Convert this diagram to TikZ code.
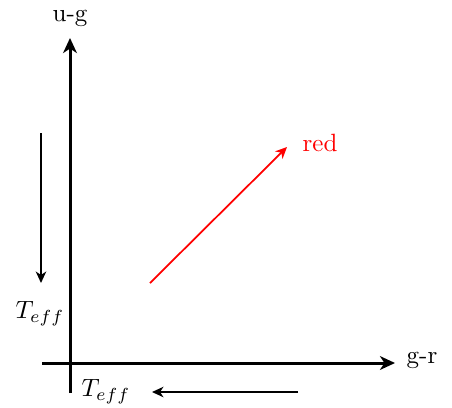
\documentclass[tikz,border=0pt]{standalone}
\usetikzlibrary{arrows.meta}
\begin{document}
\begin{tikzpicture}[x=0.4pt,y=-0.4pt,
  axis/.style={line width=1.2pt,-{Stealth[length=6pt,width=5.5pt,inset=1.8pt]}},
  dirarrow/.style={line width=0.7pt,-{Stealth[length=4.6pt,width=4.2pt,inset=1.4pt]}},
  lbl/.style={inner sep=0pt}]
\useasboundingbox (0,0) rectangle (452,407);
\coordinate (ya) at (70,393);
\coordinate (yb) at (70,38);
\coordinate (xa) at (42,363);
\coordinate (xb) at (395,363);
\draw[axis] (ya) -- (yb);
\draw[axis] (xa) -- (xb);
\node[lbl] (ug) at (70,18) {u-g};
\node[lbl] (gr) at (422,360) {g-r};
\coordinate (l1) at (41,133);
\coordinate (l2) at (41,283);
\draw[dirarrow] (l1) -- (l2);
\node[lbl] (tl) at (40,314) {$T_{eff}$};
\coordinate (b1) at (298,392);
\coordinate (b2) at (152,392);
\draw[dirarrow] (b1) -- (b2);
\node[lbl] (tb) at (106,392) {$T_{eff}$};
\coordinate (r1) at (150,283);
\coordinate (r2) at (287,147);
\draw[dirarrow,red] (r1) -- (r2);
\node[lbl,red] (rd) at (320,143) {red};
\end{tikzpicture}
\end{document}
